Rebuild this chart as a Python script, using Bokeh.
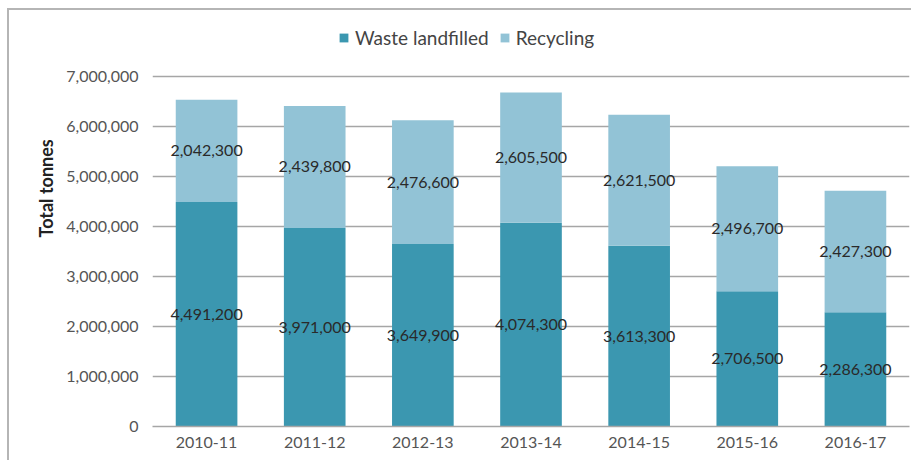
from bokeh.plotting import figure
from bokeh.models import ColumnDataSource, NumeralTickFormatter, Legend, LegendItem, FactorRange, Title
from bokeh.core.properties import value
from bokeh.embed import file_html
from bokeh.resources import INLINE

years = ["2010-11", "2011-12", "2012-13", "2013-14", "2014-15", "2015-16", "2016-17"]
landfilled = [4491200, 3971000, 3649900, 4074300, 3613300, 2706500, 2286300]
recycling = [2042300, 2439800, 2476600, 2605500, 2621500, 2496700, 2427300]
y_ticks = [0, 1000000, 2000000, 3000000, 4000000, 5000000, 6000000, 7000000]

dark = "#3b97b0"
light = "#92c3d6"
font = "Lato"

src = ColumnDataSource(dict(
    years=years,
    landfilled=landfilled,
    recycling=recycling,
    land_mid=[v / 2 for v in landfilled],
    rec_mid=[a + b / 2 for a, b in zip(landfilled, recycling)],
    land_lbl=[f"{v:,}" for v in landfilled],
    rec_lbl=[f"{v:,}" for v in recycling],
))

# frame extends above the top gridline to leave room for the legend
p = figure(width=904, height=452, x_range=FactorRange(*years), y_range=(0, 8120000),
           output_backend="svg", toolbar_location=None,
           min_border_left=143, min_border_right=4, min_border_top=10, min_border_bottom=36)
p.margin = (8, 0, 0, 7)
p.styles = {"border-left": "2px solid #b5b5b5", "border-top": "2px solid #b5b5b5"}

r = p.vbar_stack(["landfilled", "recycling"], x="years", width=0.57, source=src,
                 color=[dark, light], line_color=None)

p.text(x="years", y="land_mid", text="land_lbl", source=src, text_align="center",
       text_baseline="middle", text_font=value(font), text_font_size="16px", text_color="#2a2a2a")
p.text(x="years", y="rec_mid", text="rec_lbl", source=src, text_align="center",
       text_baseline="middle", text_font=value(font), text_font_size="16px", text_color="#2a2a2a")

p.x_range.range_padding = 0
p.outline_line_color = None
p.xgrid.grid_line_color = None
p.ygrid.grid_line_color = "#a6a6a6"
p.ygrid.grid_line_width = 1.5
p.yaxis.ticker = y_ticks
p.yaxis.formatter = NumeralTickFormatter(format="0,0")
p.yaxis.axis_line_color = None
p.yaxis.major_tick_line_color = None
p.yaxis.minor_tick_line_color = None
p.yaxis.major_label_standoff = 8
p.xaxis.axis_line_color = "#a6a6a6"
p.xaxis.axis_line_width = 1.5
p.xaxis.major_tick_line_color = None
p.xaxis.minor_tick_line_color = None
p.xaxis.major_label_standoff = 4
for ax in (p.xaxis, p.yaxis):
    ax.major_label_text_font = font
    ax.major_label_text_font_size = "16px"
    ax.major_label_text_color = "#555555"

ylab = Title(text="Total tonnes", align="left", offset=189, standoff=14,
             text_font=font, text_font_style="bold", text_font_size="18px", text_color="#222222")
p.add_layout(ylab, "left")

legend = Legend(items=[LegendItem(label="Waste landfilled", renderers=[r[0]]),
                       LegendItem(label="Recycling", renderers=[r[1]])],
                orientation="horizontal", location=(186, 377), margin=0, padding=4,
                label_text_font=font, label_text_font_size="19px", label_text_color="#444444",
                glyph_width=11, glyph_height=11, spacing=10, label_standoff=6,
                border_line_color=None, background_fill_alpha=0)
p.add_layout(legend, "center")

open("out.html", "w").write(file_html(p, INLINE))
